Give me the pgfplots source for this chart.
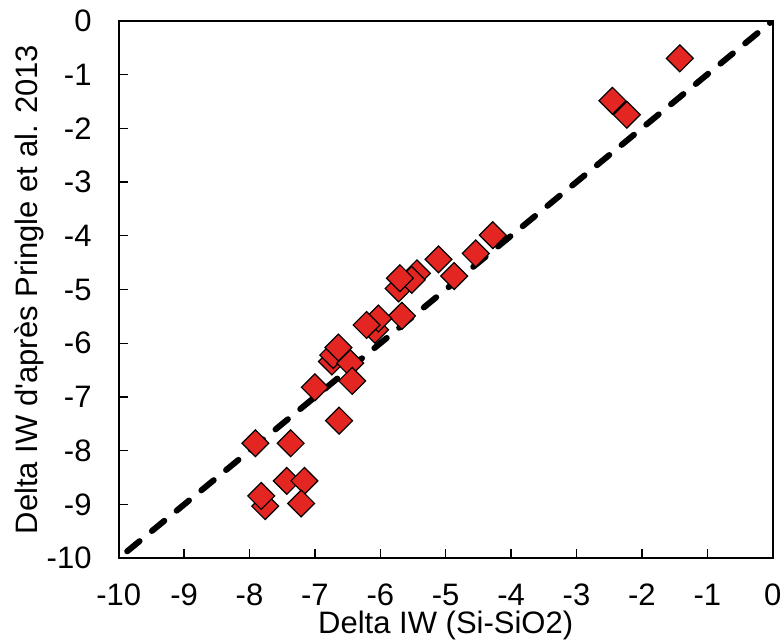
\documentclass[border=0pt]{standalone}
\usepackage{fontspec}
\setmainfont{Liberation Sans}[Ligatures=TeXOff]
\usepackage{pgfplots}
\pgfplotsset{compat=1.18}
\definecolor{mred}{RGB}{227,38,34}
\begin{document}
\begin{tikzpicture}
\begin{axis}[
  width=654bp, height=537.6bp, scale only axis,
  xmin=-10, xmax=0, ymin=-10, ymax=0,
  axis line style={line width=1.8bp},
  tick style={line width=1.3bp, black},
  major tick length=9bp,
  tick align=inside,
  xtick pos=bottom, ytick pos=left,
  xtick={-10,-9,...,0}, ytick={-10,-9,...,0},
  xticklabels={-10,-9,-8,-7,-6,-5,-4,-3,-2,-1,0},
  yticklabels={-10,-9,-8,-7,-6,-5,-4,-3,-2,-1,0},
  ticklabel style={font=\fontsize{31bp}{37bp}\selectfont},
  xticklabel style={anchor=north, inner sep=0pt, yshift=-25.5bp},
  yticklabel style={anchor=east, inner sep=0pt, xshift=-27bp},
  label style={font=\fontsize{31bp}{37bp}\selectfont},
  xlabel={Delta IW (Si-SiO2)},
  ylabel={Delta IW d'après Pringle et al. 2013},
  xlabel style={at={(axis description cs:0.5,-0.1405)}, anchor=base, inner sep=0pt},
  ylabel style={at={(axis description cs:-0.1239,0.5)}, anchor=base, inner sep=0pt, rotate=0},
]
\addplot[black, line width=6bp, line cap=round, dash pattern=on 16bp off 16bp] coordinates {(-9.87,-9.87) (0,0)};
\addplot[only marks, mark=square*, mark size=9.5bp,
  mark options={rotate=45, fill=mred, draw=black, line width=1.2bp}] coordinates {
(-1.42,-0.70) (-2.45,-1.49) (-2.23,-1.75)
(-4.28,-3.99) (-4.54,-4.33) (-5.11,-4.44) (-4.87,-4.75)
(-5.72,-4.98) (-5.44,-4.70) (-5.52,-4.82) (-5.70,-4.79)
(-6.08,-5.75) (-5.67,-5.49) (-6.03,-5.54) (-6.21,-5.66)
(-6.74,-6.34) (-6.72,-6.22) (-6.46,-6.37) (-6.64,-6.08) (-6.43,-6.70)
(-7.00,-6.82) (-6.63,-7.44) (-7.91,-7.86) (-7.37,-7.86)
(-7.43,-8.56) (-7.16,-8.56) (-7.76,-9.03) (-7.82,-8.84) (-7.21,-8.98)
};
\end{axis}
\pgfresetboundingbox
\path ([xshift=-118.7bp, yshift=-84.7bp]current axis.south west) rectangle ([xshift=11.3bp, yshift=20.7bp]current axis.north east);
\end{tikzpicture}
\end{document}
